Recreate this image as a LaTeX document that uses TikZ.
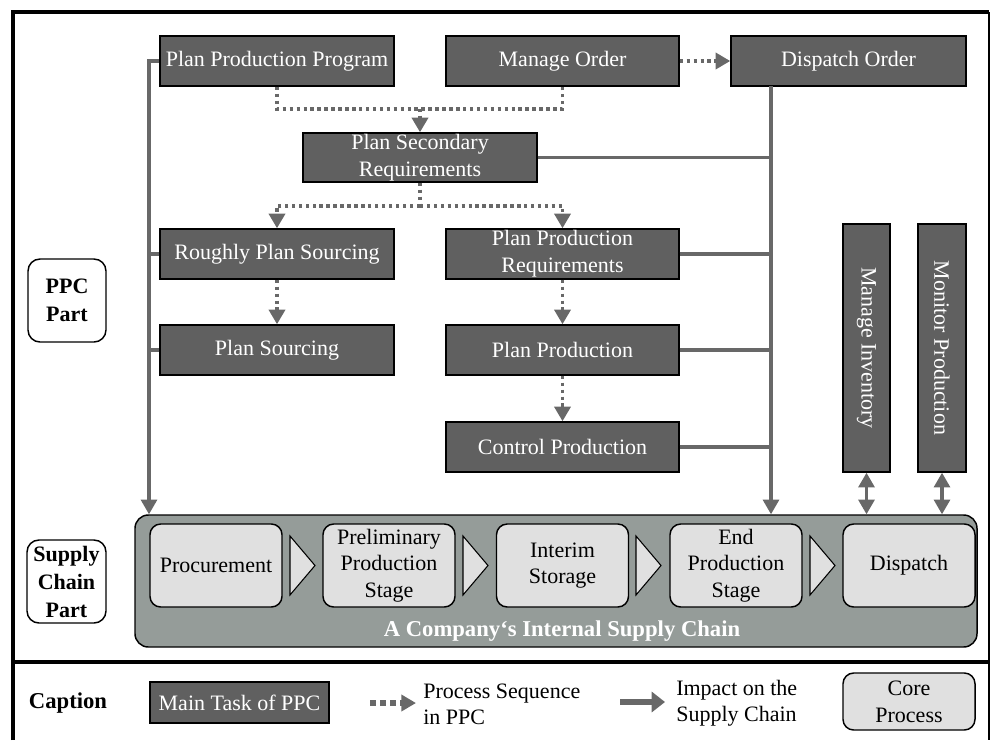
\documentclass[tikz,border=0pt]{standalone}
\usepackage{fontspec}
\setmainfont{Liberation Serif}
\usetikzlibrary{arrows.meta,calc}
\definecolor{taskgray}{HTML}{606060}
\definecolor{linegray}{HTML}{686868}
\definecolor{scgray}{HTML}{959C99}
\definecolor{coregray}{HTML}{E0E0E0}
\tikzset{
  task/.style={draw=black, line width=1.1pt, fill=taskgray, text=white,
    font=\fontsize{16.5}{20}\selectfont, align=center, inner sep=0pt},
  core/.style={draw=black, line width=1.1pt, fill=coregray, rounded corners=8pt,
    font=\fontsize{16.5}{20}\selectfont, align=center, inner sep=0pt,
    minimum width=132*0.75pt, minimum height=83*0.75pt},
  partlabel/.style={draw=black, line width=1.1pt, rounded corners=9pt,
    font=\bfseries\fontsize{16.5}{21}\selectfont, align=center, inner sep=0pt},
  impact/.style={draw=linegray, line width=2.3pt},
  impactarrow/.style={impact, -{Triangle[width=12pt,length=11pt]}},
  impactboth/.style={impact, {Triangle[width=12pt,length=11pt]}-{Triangle[width=12pt,length=11pt]}},
  seq/.style={draw=linegray, line width=2.9pt, dash pattern=on 2.6pt off 2.6pt},
  seqarrow/.style={seq, -{Triangle[width=12pt,length=11pt]}},
  chev/.style={draw=black, line width=0.8pt, fill=coregray},
  frame/.style={draw=black, line width=2.6pt},
  plain/.style={font=\fontsize{16.5}{19.5}\selectfont, align=left, inner sep=0pt},
}
\begin{document}
\begin{tikzpicture}[x=0.75pt, y=-0.75pt]
\useasboundingbox (0,0) rectangle (991,740);

% frame
\draw[frame] (13,740) -- (13,12) -- (989,12);
\draw[draw=black, line width=1.5pt] (989,12) -- (989,740);
\draw[frame] (13,662) -- (989,662);

% PPC task boxes
\node[task, minimum width=234*0.75pt, minimum height=50*0.75pt] (ppp) at (277,61) {Plan Production Program};
\node[task, minimum width=233*0.75pt, minimum height=50*0.75pt] (mo) at (562.5,61) {Manage Order};
\node[task, minimum width=235*0.75pt, minimum height=50*0.75pt] (do) at (848.5,61) {Dispatch Order};
\node[task, minimum width=234*0.75pt, minimum height=49*0.75pt] (psr) at (420,157.5) {Plan Secondary\\Requirements};
\node[task, minimum width=234*0.75pt, minimum height=50*0.75pt] (rps) at (277,254) {Roughly Plan Sourcing};
\node[task, minimum width=234*0.75pt, minimum height=50*0.75pt] (ps) at (277,350) {Plan Sourcing};
\node[task, minimum width=233*0.75pt, minimum height=50*0.75pt] (ppr) at (562.5,254) {Plan Production\\Requirements};
\node[task, minimum width=233*0.75pt, minimum height=50*0.75pt] (pp) at (562.5,350) {Plan Production};
\node[task, minimum width=233*0.75pt, minimum height=50*0.75pt] (cp) at (562.5,447) {Control Production};
\node[task, minimum width=47*0.75pt, minimum height=248*0.75pt] (mi) at (866.5,348) {\rotatebox{-90}{Manage Inventory}};
\node[task, minimum width=48*0.75pt, minimum height=248*0.75pt] (mp) at (942,348) {\rotatebox{-90}{Monitor Production}};

% part labels
\node[partlabel, minimum width=78*0.75pt, minimum height=83*0.75pt] (ppcpart) at (67,300.5) {PPC\\Part};
\node[partlabel, minimum width=79*0.75pt, minimum height=83*0.75pt] (scpart) at (66.5,581.5) {Supply\\Chain\\Part};

% supply chain
\node[draw=black, line width=1.1pt, fill=scgray, rounded corners=10pt, inner sep=0pt,
  minimum width=842*0.75pt, minimum height=132*0.75pt] (sc) at (556,581) {};
\node[core] (proc) at (216,565.5) {Procurement};
\node[core] (pps) at (389,565.5) {Preliminary\\Production\\Stage};
\node[core] (ist) at (562.5,565.5) {Interim\\Storage};
\node[core] (eps) at (736,565.5) {End\\Production\\Stage};
\node[core] (disp) at (909,565.5) {Dispatch};
\foreach \x in {290,463,636,810}{
  \draw[chev] (\x,536) -- (\x+25,565.5) -- (\x,595) -- cycle;
}
\node[text=white, font=\bfseries\fontsize{17}{20}\selectfont, inner sep=0pt] (sclabel) at (562,631) {A Company‘s Internal Supply Chain};

% process sequence (dotted)
\draw[seq] (ppp.south) -- ++(0,22) coordinate (j1) -| (mo.south);
\draw[seqarrow] (psr.north |- j1) -- (psr.north);
\draw[seq] (psr.south) -- ++(0,23) coordinate (j2);
\draw[seqarrow] (j2) -| (rps.north);
\draw[seqarrow] (j2) -| (ppr.north);
\draw[seqarrow] (rps.south) -- (ps.north);
\draw[seqarrow] (ppr.south) -- (pp.north);
\draw[seqarrow] (pp.south) -- (cp.north);
\draw[seqarrow] (mo.east) -- (do.west);

% impact lines (solid)
\coordinate (lt) at (149,61);
\draw[impactarrow] (ppp.west) -- (lt) -- (lt |- sc.north);
\draw[impact] (rps.west) -- (rps.west -| lt);
\draw[impact] (ps.west) -- (ps.west -| lt);
\coordinate (rt) at (771,86);
\draw[impactarrow] (rt) -- (rt |- sc.north);
\draw[impact] (psr.east) -- (psr.east -| rt);
\draw[impact] (ppr.east) -- (ppr.east -| rt);
\draw[impact] (pp.east) -- (pp.east -| rt);
\draw[impact] (cp.east) -- (cp.east -| rt);
\draw[impactboth] (mi.south) -- (mi.south |- sc.north);
\draw[impactboth] (mp.south) -- (mp.south |- sc.north);

% caption row
\node[font=\bfseries\fontsize{17}{20}\selectfont, inner sep=0pt] (cap) at (68,703) {Caption};
\node[task, minimum width=179*0.75pt, minimum height=41*0.75pt] (legtask) at (239.5,702.5) {Main Task of PPC};
\coordinate (sa) at (370,703);
\coordinate (sb) at (416,703);
\draw[draw=linegray, line width=4.5pt, dash pattern=on 4.5pt off 3pt, -{Triangle[width=12pt,length=11pt]}] (sa) -- (sb);
\node[plain, anchor=west] (legseq) at (423,704) {Process Sequence\\in PPC};
\coordinate (ia) at (620,702);
\coordinate (ib) at (665,702);
\draw[draw=linegray, line width=3.8pt, -{Triangle[width=15pt,length=10pt]}] (ia) -- (ib);
\node[plain, anchor=west] (legimp) at (676,703) {Impact on the\\Supply Chain};
\node[core, minimum height=57*0.75pt] (legcore) at (909,701.5) {Core\\Process};
\end{tikzpicture}
\end{document}
